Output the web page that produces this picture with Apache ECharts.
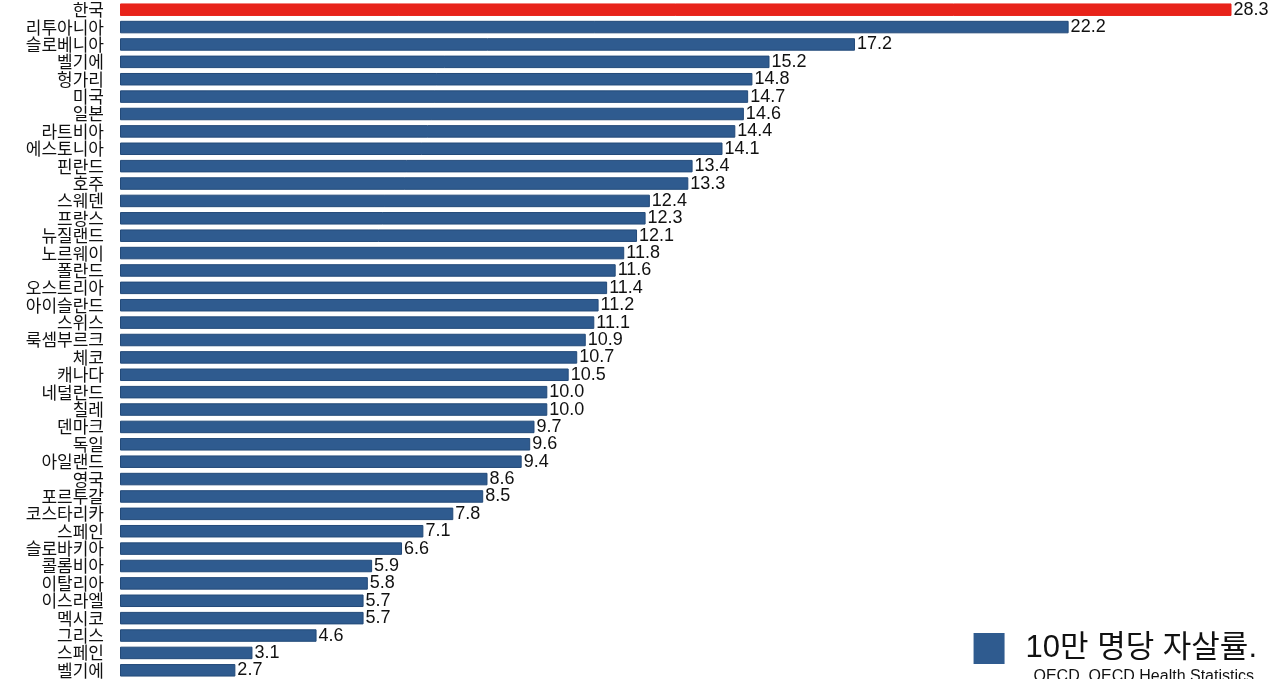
<!DOCTYPE html>
<html>
<head>
<meta charset="utf-8">
<script src="https://cdn.jsdelivr.net/npm/echarts@6/dist/echarts.min.js"></script>
<style>html,body{margin:0;padding:0;background:#fff;}#c{width:1280px;height:679px;}</style>
</head>
<body>
<div id="c"></div>
<script>
const countries = ['한국','리투아니아','슬로베니아','벨기에','헝가리','미국','일본','라트비아','에스토니아','핀란드','호주','스웨덴','프랑스','뉴질랜드','노르웨이','폴란드','오스트리아','아이슬란드','스위스','룩셈부르크','체코','캐나다','네덜란드','칠레','덴마크','독일','아일랜드','영국','포르투갈','코스타리카','스페인','슬로바키아','콜롬비아','이탈리아','이스라엘','멕시코','그리스','스페인','벨기에'];
const rates = [28.3,22.2,17.2,15.2,14.8,14.7,14.6,14.4,14.1,13.4,13.3,12.4,12.3,12.1,11.8,11.6,11.4,11.2,11.1,10.9,10.7,10.5,10.0,10.0,9.7,9.6,9.4,8.6,8.5,7.8,7.1,6.6,5.9,5.8,5.7,5.7,4.6,3.1,2.7];
const seriesName = '10만 명당 자살률.';
const sourceText = 'OECD, OECD Health Statistics';

const chart = echarts.init(document.getElementById('c'));
const idx = countries.map((_, i) => String(i));
chart.setOption({
  animation: false,
  grid: { left: 120, top: 1, width: 1111, height: 678, containLabel: false },
  xAxis: { type: 'value', min: 0, max: 26, show: false },
  yAxis: {
    type: 'category', inverse: true, data: idx,
    axisLine: { show: false }, axisTick: { show: false },
    axisLabel: {
      interval: 0, margin: 16, fontSize: 17, color: '#111',
      fontFamily: 'Noto Sans CJK KR',
      formatter: v => countries[+v]
    }
  },
  legend: {
    right: 18, top: 628, itemWidth: 31, itemHeight: 31, itemGap: 22,
    icon: 'rect',
    textStyle: { fontSize: 31, color: '#111', fontFamily: 'Liberation Sans, Noto Sans CJK KR', padding: [0, 0, 0, 16] },
    data: [{ name: seriesName, itemStyle: { color: '#2f5b8f', borderWidth: 0 } }]
  },
  graphic: [{
    type: 'text', right: 26, top: 669,
    style: { text: sourceText, fontSize: 16, fill: '#111', fontFamily: 'Liberation Sans' }
  }],
  series: [{
    name: seriesName, type: 'bar', barWidth: 12.5, clip: true,
    data: rates.map((v, i) => i === 0 ? { value: v, itemStyle: { color: '#e8231a', borderColor: '#e8231a' } } : v),
    itemStyle: { color: '#2f5b8f', borderColor: '#234a79', borderWidth: 1 },
    label: {
      show: true, position: 'right', distance: 2, fontSize: 18, color: '#111',
      fontFamily: 'Liberation Sans',
      formatter: p => p.value.toFixed(1)
    }
  }]
});
</script>
</body>
</html>
